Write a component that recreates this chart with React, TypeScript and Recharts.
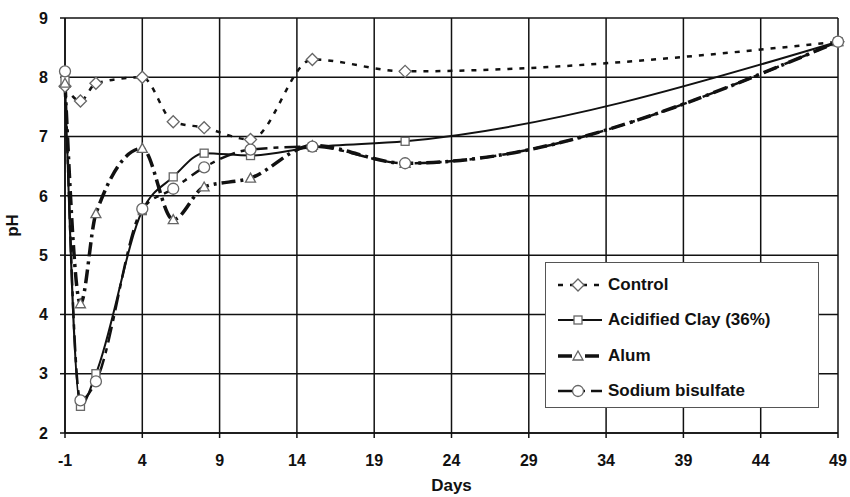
import React from 'react';
import {
  LineChart,
  Line,
  XAxis,
  YAxis,
  CartesianGrid,
} from 'recharts';

// sampling days and pH readings per treatment
const days = [-1, 0, 1, 4, 6, 8, 11, 15, 21, 49];
const control = [7.85, 7.6, 7.9, 8.0, 7.25, 7.15, 6.95, 8.3, 8.1, 8.6];
const acidifiedClay = [7.95, 2.45, 3.0, 5.75, 6.32, 6.72, 6.68, 6.82, 6.92, 8.6];
const alum = [7.9, 4.18, 5.7, 6.8, 5.6, 6.15, 6.3, 6.85, 6.55, 8.6];
const sodiumBisulfate = [8.1, 2.55, 2.87, 5.78, 6.12, 6.48, 6.78, 6.83, 6.55, 8.6];

const xTicks = [-1, 4, 9, 14, 19, 24, 29, 34, 39, 44, 49];
const yTicks = [2, 3, 4, 5, 6, 7, 8, 9];

const chartData = days.map((d, i) => ({
  day: d,
  control: control[i],
  clay: acidifiedClay[i],
  alum: alum[i],
  sodium: sodiumBisulfate[i],
}));

const FONT = '"Liberation Sans Narrow", "Arial Narrow", "Liberation Sans", Arial, sans-serif';
const INK = '#111';
const MARK = '#666';

type Shape = 'diamond' | 'square' | 'triangle' | 'circle';

const Marker = ({ cx, cy, shape }: { cx: number; cy: number; shape: Shape }) => {
  if (cx == null || cy == null) return null;
  const common = { fill: '#fff', stroke: MARK, strokeWidth: 1.3 };
  if (shape === 'diamond') {
    const r = 6;
    return <polygon points={`${cx},${cy - r} ${cx + r},${cy} ${cx},${cy + r} ${cx - r},${cy}`} {...common} />;
  }
  if (shape === 'square') {
    return <rect x={cx - 4} y={cy - 4} width={8} height={8} {...common} />;
  }
  if (shape === 'triangle') {
    return <polygon points={`${cx},${cy - 5} ${cx + 5},${cy + 4} ${cx - 5},${cy + 4}`} {...common} />;
  }
  return <circle cx={cx} cy={cy} r={5.5} {...common} />;
};

const dotFor = (shape: Shape) => (props: any) => (
  <Marker key={`${shape}-${props.index}`} cx={props.cx} cy={props.cy} shape={shape} />
);

const legendItems: { label: string; shape: Shape; dash?: string; width: number }[] = [
  { label: 'Control', shape: 'diamond', dash: '5 7', width: 2.5 },
  { label: 'Acidified Clay (36%)', shape: 'square', width: 2 },
  { label: 'Alum', shape: 'triangle', dash: '14 5 3 5', width: 3.5 },
  { label: 'Sodium bisulfate', shape: 'circle', dash: '16 6 5 6', width: 2.5 },
];

const LegendBox = () => (
  <div
    style={{
      position: 'absolute',
      left: 545,
      top: 262,
      width: 274,
      height: 146,
      border: '1.5px solid #555',
      background: '#fff',
      boxSizing: 'border-box',
      padding: '4px 0 0 10px',
      fontFamily: FONT,
      fontWeight: 'bold',
      fontSize: 17,
      color: INK,
    }}
  >
    {legendItems.map((it) => (
      <div key={it.label} style={{ display: 'flex', alignItems: 'center', height: 35.5 }}>
        <svg width={50} height={16} style={{ marginRight: 2 }}>
          <line x1={2} y1={8} x2={46} y2={8} stroke={INK} strokeWidth={it.width} strokeDasharray={it.dash} />
          <Marker cx={22} cy={8} shape={it.shape} />
        </svg>
        <span>{it.label}</span>
      </div>
    ))}
  </div>
);

const App: React.FC = () => {
  const tickStyle = { fill: INK, fontSize: 16, fontWeight: 'bold' as const, fontFamily: FONT };
  return (
    <div style={{ position: 'absolute', left: 0, top: 0, width: 850, height: 497, background: '#fff' }}>
      <LineChart width={850} height={497} data={chartData} margin={{ top: 18, right: 12, bottom: 0, left: 0 }}>
        <CartesianGrid stroke={INK} strokeWidth={1.5} horizontal vertical />
        <XAxis
          dataKey="day"
          type="number"
          domain={[-1, 49]}
          ticks={xTicks}
          interval={0}
          height={64}
          stroke={INK}
          strokeWidth={1.5}
          tickSize={5}
          tickMargin={17}
          tick={tickStyle}
          label={{ value: 'Days', position: 'insideBottom', offset: 6, style: { ...tickStyle, fontSize: 17 } }}
        />
        <YAxis
          type="number"
          domain={[2, 9]}
          ticks={yTicks}
          interval={0}
          width={65}
          stroke={INK}
          strokeWidth={1.5}
          tickSize={5}
          tickMargin={12}
          tick={tickStyle}
          label={{ value: 'pH', angle: -90, position: 'insideLeft', offset: 12, style: { ...tickStyle, fontSize: 17, textAnchor: 'middle' } }}
        />
        <Line
          type="monotone"
          dataKey="control"
          stroke={INK}
          strokeWidth={2.5}
          strokeDasharray="5 7"
          dot={dotFor('diamond')}
          isAnimationActive={false}
        />
        <Line
          type="monotone"
          dataKey="clay"
          stroke={INK}
          strokeWidth={2}
          dot={dotFor('square')}
          isAnimationActive={false}
        />
        <Line
          type="monotone"
          dataKey="alum"
          stroke={INK}
          strokeWidth={3.5}
          strokeDasharray="14 5 3 5"
          dot={dotFor('triangle')}
          isAnimationActive={false}
        />
        <Line
          type="monotone"
          dataKey="sodium"
          stroke={INK}
          strokeWidth={2.5}
          strokeDasharray="16 6 5 6"
          dot={dotFor('circle')}
          isAnimationActive={false}
        />
      </LineChart>
      <LegendBox />
    </div>
  );
};

export default App;
